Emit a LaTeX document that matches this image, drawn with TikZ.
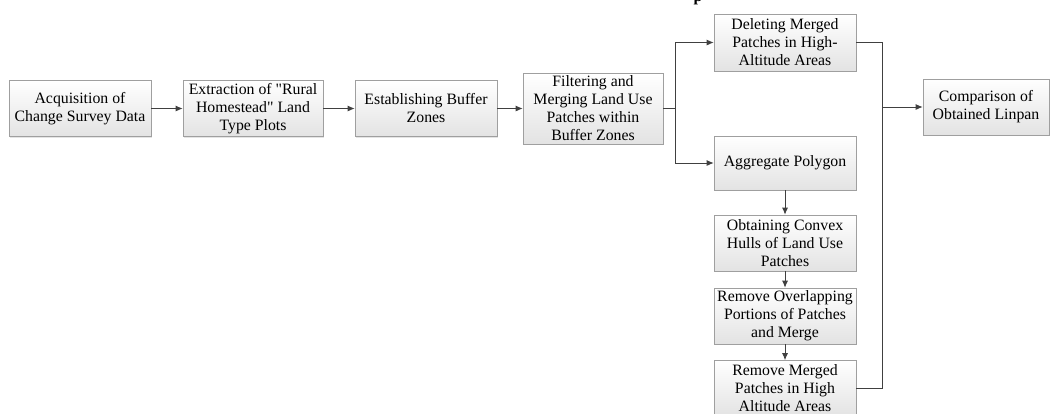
\documentclass[tikz,border=0pt]{standalone}
\usepackage{fontspec}
\setmainfont{Liberation Serif}
\usetikzlibrary{arrows.meta,shadows}
\begin{document}
\begin{tikzpicture}[x=1pt,y=-1pt,
  procbox/.style={draw=gray!75, line width=0.6pt, top color=white, bottom color=gray!22,
    drop shadow={shadow xshift=1pt, shadow yshift=-1pt, fill=gray!35, opacity=0.6},
    align=center, inner sep=1pt, font=\fontsize{15.8}{18}\selectfont},
  conn/.style={draw=black!75, line width=0.9pt},
  arr/.style={conn, -{Latex[length=7pt,width=6pt]}}]
\useasboundingbox (0,0) rectangle (1054,413);
\clip (0,0) rectangle (1054,413);
\node[font=\bfseries\fontsize{16}{17}\selectfont, anchor=base] (ttl) at (698,1) {p};
\node[procbox, minimum width=142pt, minimum height=56pt] (b1) at (80,108.5) {Acquisition of\\Change Survey Data};
\node[procbox, minimum width=140pt, minimum height=56pt] (b2) at (253,108.5) {Extraction of \textquotedbl Rural\\Homestead\textquotedbl{} Land\\Type Plots};
\node[procbox, minimum width=142pt, minimum height=56pt] (b3) at (426,108.5) {Establishing Buffer\\Zones};
\node[procbox, minimum width=140pt, minimum height=71pt] (b4) at (593,108.5) {Filtering and\\Merging Land Use\\Patches within\\Buffer Zones};
\node[procbox, minimum width=142pt, minimum height=57pt] (b5) at (785,42.5) {Deleting Merged\\Patches in High-\\Altitude Areas};
\node[procbox, minimum width=126pt, minimum height=56pt] (b6) at (986,107) {Comparison of\\Obtained Linpan};
\node[procbox, minimum width=142pt, minimum height=54pt] (agg) at (785,163) {Aggregate Polygon};
\node[procbox, minimum width=142pt, minimum height=56pt] (conv) at (785,243) {Obtaining Convex\\Hulls of Land Use\\Patches};
\node[procbox, minimum width=142pt, minimum height=56pt] (over) at (785,316) {Remove Overlapping\\Portions of Patches\\and Merge};
\node[procbox, minimum width=142pt, minimum height=56pt] (rm) at (785,388.5) {Remove Merged\\Patches in High\\Altitude Areas};
\coordinate (jl) at (675,108.5);
\coordinate (jr) at (882,107);
\draw[arr] (b1) -- (b2);
\draw[arr] (b2) -- (b3);
\draw[arr] (b3) -- (b4);
\draw[conn] (b4.east) -- (jl);
\draw[arr] (jl) |- (b5.west);
\draw[arr] (jl) |- (agg.west);
\draw[arr] (agg) -- (conv);
\draw[arr] (conv) -- (over);
\draw[arr] (over) -- (rm);
\draw[conn] (b5.east) -| (jr) |- (rm.east);
\draw[arr] (jr) -- (b6.west);
\end{tikzpicture}
\end{document}
